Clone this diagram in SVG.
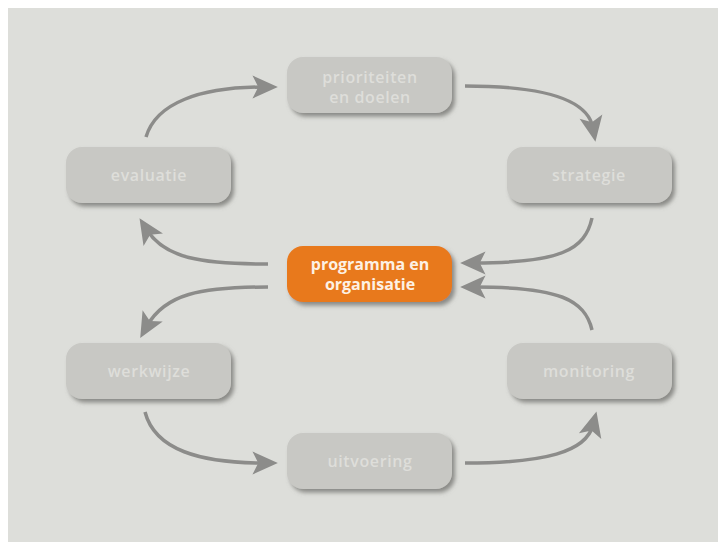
<svg xmlns="http://www.w3.org/2000/svg" width="718" height="542" viewBox="0 0 718 542">
  <style>
    .node rect { fill: #c8c8c4; }
    .node text { font-family: "Open Sans", "Liberation Sans", sans-serif; font-size: 16px; font-weight: 600; fill: #dededa; text-anchor: middle; letter-spacing: 0.6px; }
    .hub rect { fill: #e8791f; }
    .hub text { font-family: "Open Sans", "Liberation Sans", sans-serif; font-size: 16px; font-weight: bold; fill: #fdf1e4; text-anchor: middle; }
    .conn path { fill: none; stroke: #8c8c8a; stroke-width: 3.5; marker-end: url(#arrow); }
  </style>
  <defs>
    <filter id="shadow" x="-10%" y="-20%" width="125%" height="150%">
      <feDropShadow dx="3" dy="3.5" stdDeviation="2" flood-color="#6e6e6a" flood-opacity="0.75"/>
    </filter>
    <marker id="arrow" markerUnits="userSpaceOnUse" markerWidth="30" markerHeight="30" viewBox="-12 -12 26 24" refX="0" refY="0" orient="auto">
      <path d="M12,0 L-10,-10 L-5,0 L-10,10 Z" fill="#8c8c8a"/>
    </marker>
  </defs>
  <rect x="0" y="0" width="718" height="542" fill="#ffffff"/>
  <rect x="8" y="8" width="710" height="534" fill="#dddeda"/>

  <g id="connectors" class="conn">
    <path d="M146,137 C156,103 200,87 264,87"/>
    <path d="M465,86 C545,86 588,100 593,128"/>
    <path d="M592,218 C585,250 560,263 474,263"/>
    <path d="M592,330 C585,300 560,287 474,287"/>
    <path d="M268,264 C200,264 165,258 147,230"/>
    <path d="M268,287 C200,287 165,294 147,326"/>
    <path d="M145,412 C155,450 200,463 264,463"/>
    <path d="M465,463 C545,463 586,452 593,425"/>
  </g>

  <g id="node-prioriteiten" class="node">
    <rect x="287" y="57" width="165" height="56" rx="16" filter="url(#shadow)"/>
    <text x="370" y="83">prioriteiten</text>
    <text x="370" y="103">en doelen</text>
  </g>
  <g id="node-evaluatie" class="node">
    <rect x="66" y="147" width="165" height="56" rx="16" filter="url(#shadow)"/>
    <text x="149" y="181">evaluatie</text>
  </g>
  <g id="node-strategie" class="node">
    <rect x="507" y="147" width="165" height="56" rx="16" filter="url(#shadow)"/>
    <text x="589" y="181">strategie</text>
  </g>
  <g id="node-programma" class="hub">
    <rect x="287" y="246" width="165" height="56" rx="16" filter="url(#shadow)"/>
    <text x="370" y="270">programma en</text>
    <text x="370" y="290">organisatie</text>
  </g>
  <g id="node-werkwijze" class="node">
    <rect x="66" y="343" width="165" height="56" rx="16" filter="url(#shadow)"/>
    <text x="149" y="377">werkwijze</text>
  </g>
  <g id="node-monitoring" class="node">
    <rect x="507" y="343" width="165" height="56" rx="16" filter="url(#shadow)"/>
    <text x="589" y="377">monitoring</text>
  </g>
  <g id="node-uitvoering" class="node">
    <rect x="287" y="433" width="165" height="56" rx="16" filter="url(#shadow)"/>
    <text x="370" y="467">uitvoering</text>
  </g>
</svg>
